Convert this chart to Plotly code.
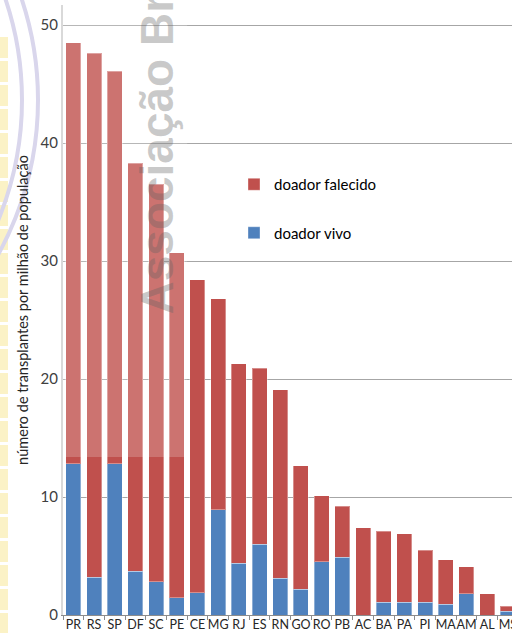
import plotly.graph_objects as go

# transplantes por milhão de população, por estado
estados = ["PR", "RS", "SP", "DF", "SC", "PE", "CE", "MG", "RJ", "ES", "RN",
           "GO", "RO", "PB", "AC", "BA", "PA", "PI", "MA", "AM", "AL", "MS"]
doador_vivo = [12.8, 3.2, 12.8, 3.7, 2.8, 1.45, 1.9, 8.9, 4.4, 6.0, 3.1,
               2.2, 4.5, 4.9, 0.0, 1.1, 1.1, 1.1, 0.9, 1.8, 0.0, 0.3]
doador_falecido = [35.7, 44.4, 33.3, 34.6, 33.7, 29.25, 26.5, 17.9, 16.9, 14.9, 16.0,
                   10.45, 5.6, 4.3, 7.4, 6.0, 5.8, 4.4, 3.8, 2.3, 1.8, 0.45]
y_ticks = [0, 10, 20, 30, 40, 50]

RED = "#C0504D"
BLUE = "#4F81BD"
FONT = "Lato"

W, H = 512, 633
ML, MR, MT, MB = 63, 0, 5, 18
PW, PH = W - ML - MR, H - MT - MB


def px_x(x):
    return (x - ML) / PW


def px_y(y):
    return (H - MB - y) / PH


fig = go.Figure()
fig.add_trace(go.Bar(
    x=estados, y=doador_vivo, name="doador vivo", legendgroup="vivo", legendrank=2,
    marker=dict(color=BLUE, line=dict(color="rgba(255,255,255,0.35)", width=1)),
))
fig.add_trace(go.Bar(
    x=estados, y=doador_falecido, name="doador falecido", legendgroup="falecido",
    legendrank=1,
    marker=dict(color=RED, line=dict(color="rgba(255,255,255,0.35)", width=1)),
))

shapes = []
# lighter band over the top-left part of the chart
shapes.append(dict(type="rect", xref="x", yref="y", x0=-0.5, x1=5.5, y0=13.4, y1=51.7,
                   fillcolor="rgba(255,255,255,0.2)", line=dict(width=0), layer="above"))
# yellow dashed strip on the left edge
for k in range(26):
    top = 37 + k * 24
    shapes.append(dict(type="rect", xref="paper", yref="paper",
                       x0=px_x(0), x1=px_x(8), y0=px_y(min(top + 21, H)), y1=px_y(top),
                       fillcolor="#FBF2C6", line=dict(width=0), layer="below"))
# purple arcs of the logo
for r in (320, 312):
    shapes.append(dict(type="circle", xref="paper", yref="paper",
                       x0=px_x(-282 - r), x1=px_x(-282 + r - (320 - r)),
                       y0=px_y(100 + r), y1=px_y(100 - r),
                       line=dict(color="#D9D6EC", width=4), layer="below"))

fig.update_layout(
    width=W, height=H,
    margin=dict(l=ML, r=MR, t=MT, b=MB, autoexpand=False),
    barmode="stack", bargap=0.275,
    plot_bgcolor="white", paper_bgcolor="white",
    font=dict(family=FONT, color="#262626"),
    shapes=shapes,
    legend=dict(
        x=px_x(234), y=px_y(168), xanchor="left", yanchor="top",
        traceorder="grouped", tracegroupgap=26,
        font=dict(size=15, color="#000000"), bgcolor="rgba(0,0,0,0)",
    ),
    xaxis=dict(
        range=[-0.5, 21.2], showgrid=False, automargin=False,
        showline=True, linecolor="#8C8C8C", linewidth=1,
        ticks="outside", tickson="boundaries", ticklen=4, tickcolor="#8C8C8C",
        tickangle=0, ticklabelstandoff=-2,
        tickfont=dict(size=12.5, color="#262626"),
    ),
    yaxis=dict(
        range=[0, 51.7], tickvals=y_ticks, automargin=False,
        showgrid=True, gridcolor="#A6A6A6", gridwidth=1,
        showline=True, linecolor="#D9D9D9", linewidth=2,
        tickfont=dict(size=15, color="#404040"),
        title=dict(text="número de transplantes por milhão de população",
                   font=dict(size=14.5, color="#262626"), standoff=9),
        zeroline=False,
    ),
    annotations=[dict(
        text="<b>Associação Brasileira</b>", textangle=-90,
        xref="paper", yref="paper", x=px_x(156), y=px_y(317),
        xanchor="center", yanchor="bottom", showarrow=False,
        font=dict(family="Liberation Sans", size=46, color="rgba(100,100,100,0.35)"),
    )],
)

fig.write_html("out.html", config={"displayModeBar": False},
               post_script="document.body.style.margin='0';")
